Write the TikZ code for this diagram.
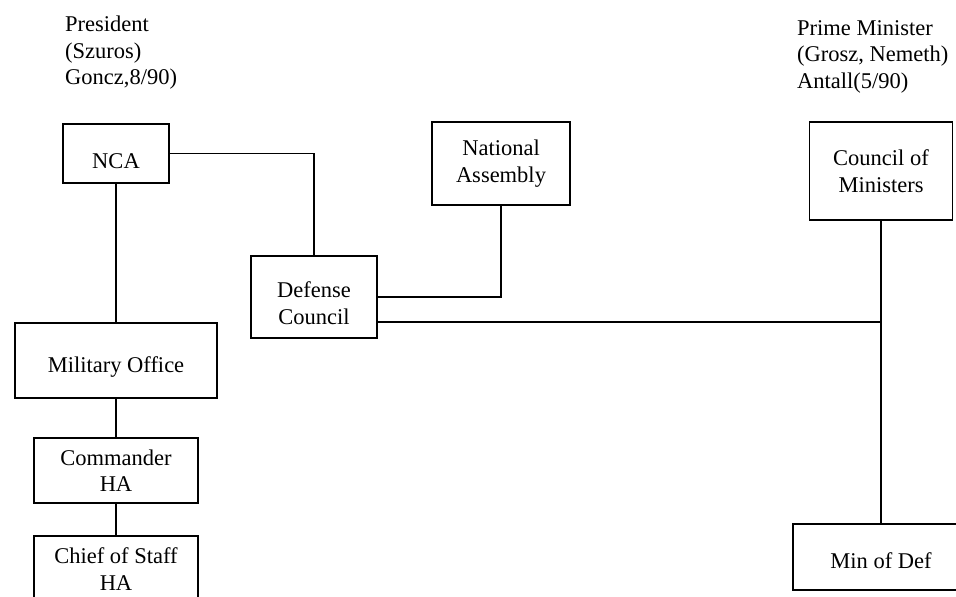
\documentclass[tikz,border=0pt]{standalone}
\usepackage{fontspec}
\setmainfont{Liberation Serif}
\usetikzlibrary{positioning}

\begin{document}
\begin{tikzpicture}[x=1pt, y=-1pt,
    every node/.style={font=\fontsize{22.5}{26.5}\selectfont},
    box/.style={rectangle, draw, line width=1.4pt, align=center, inner sep=0pt},
    sink/.style={text height=#1, text depth=0pt},
    head/.style={anchor=north west, align=left, inner sep=0pt},
    link/.style={line width=1.4pt}]
    \useasboundingbox (0,0) rectangle (956,597);

    % heads of state and government
    \node(pres) [head] at (65,16) {President\\(Szuros)\\Goncz,8/90)};
    \node(pm) [head] at (797,20) {Prime Minister\\(Grosz, Nemeth)\\Antall(5/90)};

    \node(nca) [box, sink=30pt, minimum width=106, minimum height=59] at (116,153.5) {NCA};
    \node(na) [box, minimum width=138, minimum height=83] at (501,163.5) {National\\Assembly};
    \node(dc) [box, sink=54pt, minimum width=126, minimum height=82] at (314,297) {Defense\\Council};
    \node(com) [box, minimum width=143, minimum height=98] at (881,171) {Council of\\Ministers};
    \node(mo) [box, sink=23pt, minimum width=202, minimum height=75] at (116,360.5) {Military Office};
    \node(cmd) [box, minimum width=164, minimum height=65] at (116,470.5) {Commander\\HA};
    \node(cos) [box, minimum width=164, minimum height=66] at (116,569) {Chief of Staff\\HA};
    \node(mod) [box, sink=23pt, minimum width=176, minimum height=66] at (881,557) {Min of Def};

    \coordinate (jn) at (com.south |- 0,322);

    \draw[link] (nca) -| (dc);
    \draw[link] (dc) -| (na);
    \draw[link] (nca) -- (mo);
    \draw[link] (mo) -- (cmd);
    \draw[link] (cmd) -- (cos);
    \draw[link] (com) -- (mod);
    \draw[link] (dc.east |- jn) -- (jn);
\end{tikzpicture}
\end{document}
